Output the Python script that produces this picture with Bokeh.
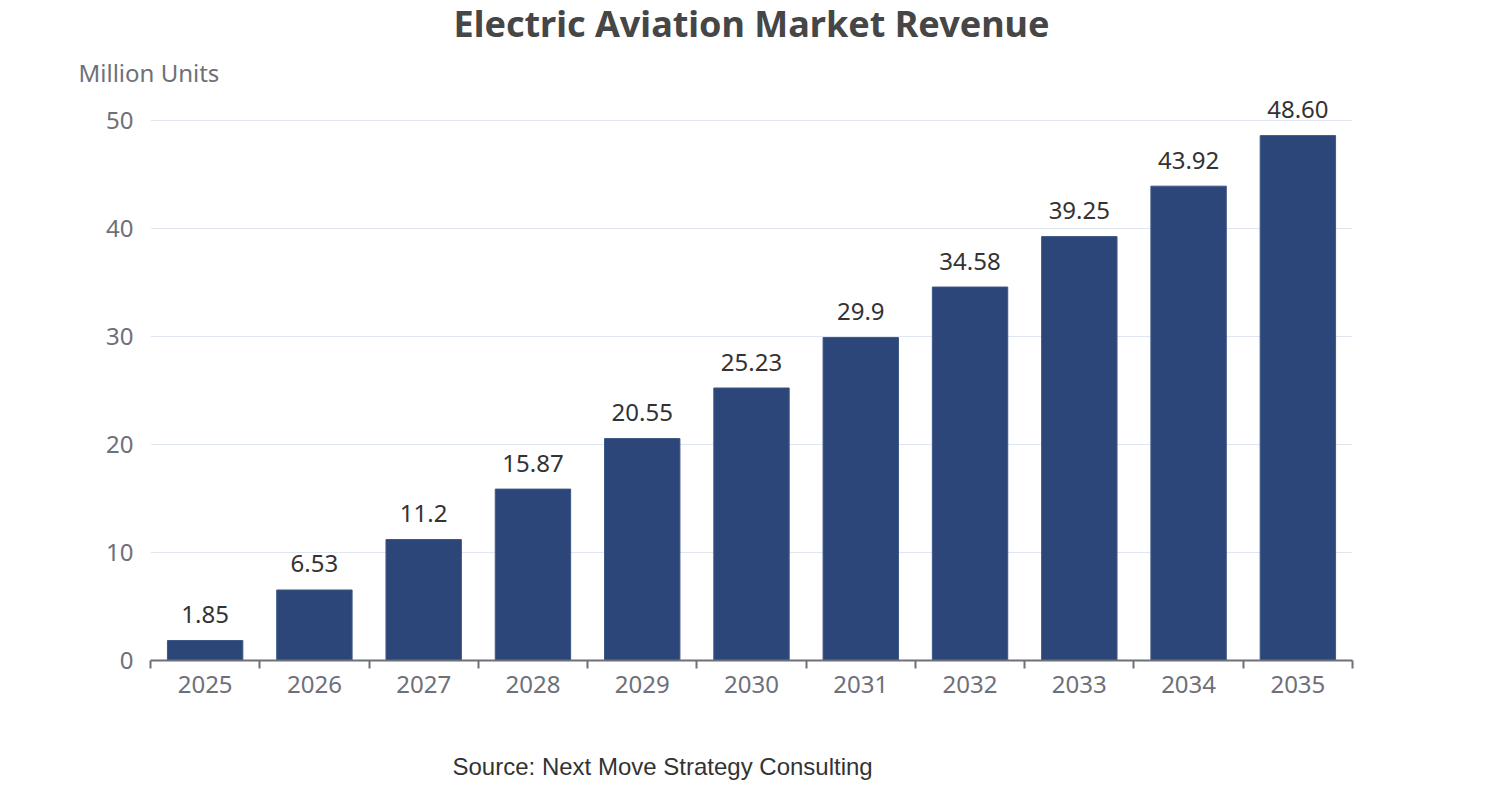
from bokeh.plotting import figure
from bokeh.models import ColumnDataSource, Range1d, FixedTicker, Title
from bokeh.core.properties import value
from bokeh.embed import file_html
from bokeh.resources import INLINE

years = ["2025", "2026", "2027", "2028", "2029", "2030", "2031", "2032", "2033", "2034", "2035"]
revenue = [1.85, 6.53, 11.2, 15.87, 20.55, 25.23, 29.9, 34.58, 39.25, 43.92, 48.60]
value_labels = ["1.85", "6.53", "11.2", "15.87", "20.55", "25.23", "29.9", "34.58", "39.25", "43.92", "48.60"]
y_ticks = [0, 10, 20, 30, 40, 50]

FONT = "Noto Sans"
centers = [i + 0.5 for i in range(len(years))]
src = ColumnDataSource(dict(x=centers, top=revenue, label=value_labels))

p = figure(width=1486, height=784, output_backend="svg", toolbar_location=None,
           x_range=Range1d(0, len(years)), y_range=Range1d(0, 51.944),
           min_border_left=150, min_border_right=134, min_border_top=99, min_border_bottom=124)
p.outline_line_color = None
p.background_fill_color = "white"

p.vbar(x="x", top="top", width=0.69, source=src, fill_color="#2c4679", line_color="#3d5787", line_width=1)
p.text(x="x", y="top", text="label", source=src, text_align="center", text_baseline="alphabetic",
       y_offset=-26, text_font=value(FONT), text_font_size="24px", text_color="#333333")

p.xgrid.visible = False
p.ygrid.ticker = FixedTicker(ticks=y_ticks)
p.ygrid.grid_line_color = "#e0e6f1"
p.ygrid.grid_line_width = 1

xa = p.xaxis[0]
xa.ticker = FixedTicker(ticks=centers, minor_ticks=list(range(len(years) + 1)))
xa.major_label_overrides = {c: y for c, y in zip(centers, years)}
xa.axis_line_color = "#6e7079"
xa.axis_line_width = 2
xa.major_tick_line_color = None
xa.major_tick_in = 0
xa.major_tick_out = 0
xa.minor_tick_line_color = "#6e7079"
xa.minor_tick_line_width = 2
xa.minor_tick_in = 0
xa.minor_tick_out = 8
xa.major_label_standoff = 7
xa.major_label_text_font = FONT
xa.major_label_text_font_size = "24px"
xa.major_label_text_color = "#6e7079"

ya = p.yaxis[0]
ya.ticker = FixedTicker(ticks=y_ticks)
ya.axis_line_color = None
ya.major_tick_line_color = None
ya.minor_tick_line_color = None
ya.major_tick_in = 0
ya.major_tick_out = 0
ya.major_label_standoff = 17
ya.major_label_text_font = FONT
ya.major_label_text_font_size = "24px"
ya.major_label_text_color = "#6e7079"

p.title = Title(text="Electric Aviation Market Revenue", align="center", standoff=-8,
                text_font=FONT, text_font_size="36px", text_font_style="bold", text_color="#464646")
p.add_layout(Title(text="Million Units", align="left", offset=-72, standoff=21,
                   text_font=FONT, text_font_size="24px", text_font_style="normal", text_color="#6e7079"), "above")
p.add_layout(Title(text=" ", align="left", standoff=36, text_font=FONT, text_font_size="10px"), "below")
p.add_layout(Title(text="Source: Next Move Strategy Consulting", align="left", offset=302, standoff=7,
                   text_font="Liberation Sans", text_font_size="24px", text_font_style="normal",
                   text_color="#333333"), "below")

open("out.html", "w").write(file_html(p, INLINE))
